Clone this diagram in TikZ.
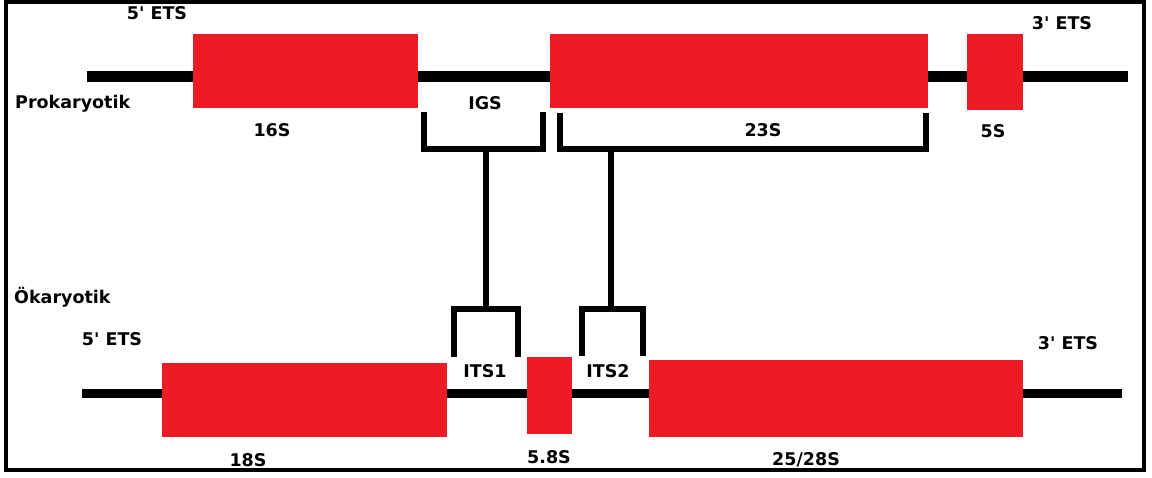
\documentclass[tikz,border=0pt]{standalone}
\usepackage{fontspec}
\newfontfamily\lblfont{DejaVu Sans}
\definecolor{rnared}{HTML}{ED1C24}
\begin{document}
\begin{tikzpicture}[x=1pt,y=-1pt,
    gene/.style={fill=rnared,inner sep=0pt},
    lbl/.style={font=\lblfont\fontsize{17.5}{20}\selectfont\bfseries,inner sep=0pt},
    brk/.style={line width=5.5pt}]
  \useasboundingbox (0,0) rectangle (1152,477);
  \draw[line width=4pt] (6,1.5) rectangle (1144,470);
  % prokaryotic rrn operon
  \draw[line width=11pt] (87,76) -- (1128,76);
  \node[gene,minimum width=225pt,minimum height=74pt] (p16) at (305.5,71) {};
  \node[gene,minimum width=378pt,minimum height=74pt] (p23) at (739,71) {};
  \node[gene,minimum width=56pt,minimum height=76pt] (p5) at (995,72) {};
  \node[lbl] (p5ets) at (157,13) {5' ETS};
  \node[lbl] (p3ets) at (1062,23) {3' ETS};
  \node[lbl,anchor=west] (prok) at (15,104) {Prokaryotik};
  \node[lbl] (p16l) at (272,130) {16S};
  \node[lbl] (igs) at (485,103) {IGS};
  \node[lbl] (p23l) at (763,130) {23S};
  \node[lbl] (p5l) at (993,131) {5S};
  % eukaryotic rDNA unit
  \draw[line width=9pt] (82,393) -- (1122,393);
  \node[gene,minimum width=285pt,minimum height=74pt] (e18) at (304.5,400) {};
  \node[gene,minimum width=45pt,minimum height=77pt] (e58) at (549.5,395.5) {};
  \node[gene,minimum width=374pt,minimum height=77pt] (e25) at (836,398.5) {};
  \node[lbl,anchor=west] (euk) at (14,297) {Ökaryotik};
  \node[lbl] (e5ets) at (112,339) {5' ETS};
  \node[lbl] (e3ets) at (1068,343) {3' ETS};
  \node[lbl] (its1) at (485,371) {ITS1};
  \node[lbl] (its2) at (608,371) {ITS2};
  \node[lbl] (e18l) at (248,460) {18S};
  \node[lbl] (e58l) at (549,457) {5.8S};
  \node[lbl] (e25l) at (806,460) {25/28S};
  % brackets
  \coordinate (igsL) at (424,112);  \coordinate (igsR) at (543,112);
  \coordinate (igsM) at (486,149);
  \coordinate (p23L) at (560,113);  \coordinate (p23R) at (926,113);
  \coordinate (p23M) at (611,149);
  \coordinate (its1L) at (454,357); \coordinate (its1R) at (518,357);
  \coordinate (its1M) at (486,309);
  \coordinate (its2L) at (582,356); \coordinate (its2R) at (643,356);
  \coordinate (its2M) at (611,309);
  \draw[brk] (igsL) |- (igsM) -| (igsR);
  \draw[brk] (p23L) |- (p23M) -| (p23R);
  \draw[brk] (its1L) |- (its1M) -| (its1R);
  \draw[brk] (its2L) |- (its2M) -| (its2R);
  \draw[brk] (igsM) -- (its1M);
  \draw[brk] (p23M) -- (its2M);
\end{tikzpicture}
\end{document}
